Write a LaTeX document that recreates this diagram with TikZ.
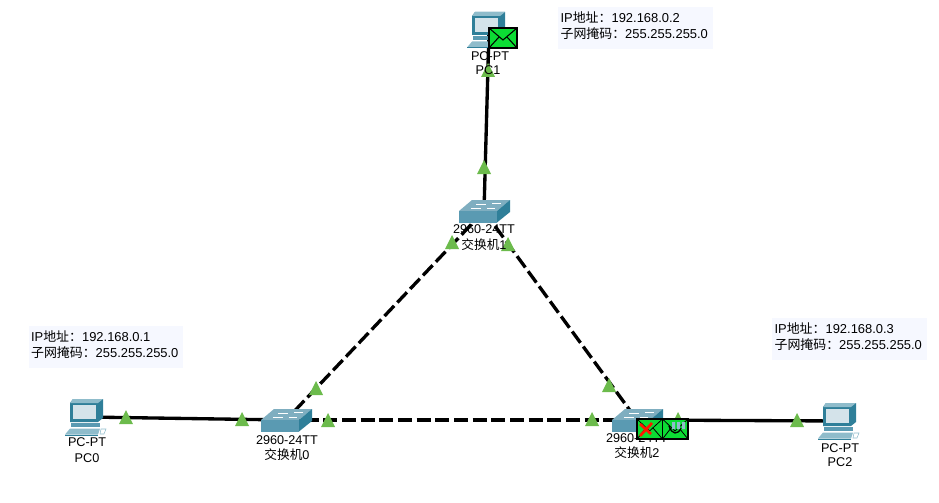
\documentclass[tikz,border=0pt]{standalone}
\usepackage{fontspec}
\setmainfont{Liberation Sans}
\newfontfamily\cjk{Noto Sans CJK SC}
\definecolor{tri}{HTML}{6CBB4C}
\definecolor{env}{HTML}{0CDC34}
\definecolor{boxbg}{HTML}{F6F8FF}
\definecolor{tealdark}{HTML}{2F7F99}
\definecolor{tealmid}{HTML}{5A9AB2}
\definecolor{teallight}{HTML}{8FBCCB}
\definecolor{swtop}{HTML}{7FAEC0}
\definecolor{screen}{HTML}{D4E3EA}
\newcommand{\lowstrut}{\rule[-4.5pt]{0pt}{1pt}}
\tikzset{
  link/.style={line width=2.5pt,black},
  dashlink/.style={link,dash pattern=on 10.5pt off 3.5pt},
  lab/.style={font=\fontsize{9.5}{10}\selectfont,inner sep=0pt,text=black},
  infobox/.style={fill=boxbg,inner sep=0pt,minimum height=31.5pt,text width=116pt,align=left,font=\fontsize{9.7}{12.2}\selectfont},
  marker/.style={fill=tri,draw=none},
  envbox/.style={fill=env,draw=black,line width=1.1pt},
  pcicon/.pic={
    \fill[tealdark] (-14,-18) -- (16,-18) -- (16,1) -- (11,5) -- (-17,5) -- (-17,-14) -- cycle;
    \fill[teallight] (-14,-18) -- (16,-18) -- (11,-14) -- (-17,-14) -- cycle;
    \fill[screen] (-14.5,-12) rectangle (9,2);
    \fill[tealmid] (-16,6) -- (13,6) -- (13,10) -- (-16,10) -- cycle;
    \fill[teallight] (-17,11.5) -- (13,11.5) -- (11,17.5) -- (-22,17.5) -- cycle;
    \fill[tealdark] (-22,17.5) rectangle (11,18.5);
    \fill[white,draw=teallight,line width=.4pt] (14,12) -- (19,12) -- (17,17) -- (13,17) -- cycle;
  },
  swicon/.pic={
    \fill[swtop] (-25,0) -- (-12,-11) -- (26,-11) -- (13,0) -- cycle;
    \fill[tealmid] (-25,0) rectangle (13,11.5);
    \fill[tealdark] (13,0) -- (26,-11) -- (26,1) -- (13,11.5) -- cycle;
    \draw[white,line width=.6pt] (-13,-3) -- (-3,-3) (-8,-7) -- (2,-7) (3,-3) -- (11,-3) (8,-8) -- (17,-8);
  }
}
\begin{document}
\begin{tikzpicture}[x=0.75pt,y=-0.75pt]
\useasboundingbox (0,0) rectangle (939,503);
% anchors
\node[inner sep=0pt] (pc0) at (87,417) {};
\node[inner sep=0pt] (pc1) at (489,30) {};
\node[inner sep=0pt] (pc2) at (840,421) {};
\node[inner sep=0pt] (sw0) at (286,420) {};
\node[inner sep=0pt] (sw1) at (484,211) {};
\node[inner sep=0pt] (sw2) at (637,420) {};
% links
\draw[link] (pc0.center) -- (sw0.center);
\draw[link] (pc1.center) -- (sw1.center);
\draw[link] (sw2.center) -- (pc2.center);
\draw[dashlink] (sw1.center) -- (sw0.center);
\draw[dashlink] (sw1.center) -- (sw2.center);
\draw[dashlink] (sw0.center) -- (sw2.center);
% link-state triangles
\foreach \x/\y in {126/417,242/419,488/70,484/167,452/242,508/244,316/388,609/385,328/420,592/419,678/419,797/420}
  \fill[marker] (\x-7,\y+7) -- (\x+7,\y+7) -- (\x,\y-7) -- cycle;
% devices
\pic at (pc0) {pcicon};
\pic at (pc1) {pcicon};
\pic at (pc2) {pcicon};
\pic at (sw0) {swicon};
\pic at (sw1) {swicon};
\pic at (sw2) {swicon};
% labels
\node[lab] (l0a) at (87,442) {PC-PT};
\node[lab] (l0b) at (87,458) {PC0};
\node[lab] (l1a) at (490,56) {PC-PT};
\node[lab] (l1b) at (488,70) {PC1};
\node[lab] (l2a) at (840,448) {PC-PT};
\node[lab] (l2b) at (840,462) {PC2};
\node[lab] (s0a) at (287,440) {2960-24TT};
\node[lab] (s0b) at (287,455) {{\cjk 交换机}0};
\node[lab] (s1a) at (484,229) {2960-24TT};
\node[lab] (s1b) at (484,245) {{\cjk 交换机}1};
\node[lab] (s2a) at (637,438) {2960-24TT};
\node[lab] (s2b) at (637,453) {{\cjk 交换机}2};
% info boxes
\node[infobox] (i0) at (106,347) {\hspace*{1.8pt}IP{\cjk 地址：}192.168.0.1\\\hspace*{1.8pt}{\cjk 子网掩码：}255.255.255.0\lowstrut};
\node[infobox] (i1) at (635.5,28) {\hspace*{1.8pt}IP{\cjk 地址：}192.168.0.2\\\hspace*{1.8pt}{\cjk 子网掩码：}255.255.255.0\lowstrut};
\node[infobox] (i2) at (849.5,339) {\hspace*{1.8pt}IP{\cjk 地址：}192.168.0.3\\\hspace*{1.8pt}{\cjk 子网掩码：}255.255.255.0\lowstrut};
% envelopes
\draw[envbox] (489,28) rectangle (517,48);
\draw[black,line width=.8pt] (489,28) -- (503,40) -- (517,28) (489,48) -- (499,37) (517,48) -- (507,37);
\draw[envbox] (637,419) rectangle (662.5,439);
\draw[envbox] (662.5,419) rectangle (688,439);
\draw[black,line width=.6pt] (637,419) -- (649.5,431) -- (662.5,419) -- (675,431) -- (688,419) (637,439) -- (646,428) (662.5,439) -- (653,428) (662.5,439) -- (671,428) (688,439) -- (679,428);
\draw[red!80!orange,line width=2pt] (640,436) -- (652,423) (640,424) -- (651,434);
\draw[black,line width=1pt] (669,426) .. controls (672,435) and (678,435) .. (681,428);
\fill[teallight] (672,422) rectangle (675,429) (677,422) rectangle (680,429) (682,422) rectangle (685,429);
\end{tikzpicture}
\end{document}
